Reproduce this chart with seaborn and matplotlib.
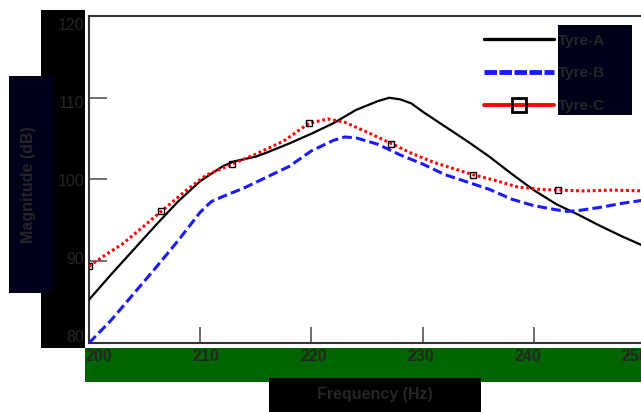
import matplotlib
matplotlib.use("Agg")
import matplotlib.pyplot as plt
from matplotlib.patches import Rectangle
from matplotlib.lines import Line2D
from matplotlib.transforms import ScaledTranslation
import seaborn as sns
import pandas as pd

# ---- data ----
freq_a = [200, 202, 204, 206, 208, 210, 212, 213, 214, 215, 216, 218, 220, 222, 224,
          226, 227, 228, 229, 230, 232, 234, 236, 238, 240, 242, 244, 246, 248, 250]
tyre_a = [85.3, 88.4, 91.4, 94.4, 97.3, 99.8, 101.6, 102.2, 102.5, 102.8, 103.3, 104.4,
          105.6, 106.9, 108.5, 109.6, 110.0, 109.8, 109.3, 108.3, 106.5, 104.7, 102.8,
          100.7, 98.7, 97.0, 95.7, 94.3, 93.0, 91.8]

freq_b = [200, 202, 204, 206, 208, 210, 211, 212, 214, 216, 218, 220, 222, 223, 224,
          226, 228, 230, 232, 234, 236, 238, 240, 242, 243, 244, 246, 248, 250]
tyre_b = [80.0, 82.8, 86.0, 89.2, 92.5, 96.0, 97.3, 97.9, 99.0, 100.3, 101.6, 103.5,
          104.8, 105.2, 105.1, 104.3, 103.0, 101.9, 100.6, 99.7, 98.8, 97.6, 96.8,
          96.3, 96.1, 96.2, 96.6, 97.1, 97.5]

freq_c = [200.0, 201.5, 203.0, 204.5, 206.5, 208.5, 210.5, 212.9, 215.0, 217.5, 219.8,
          221.5, 223.0, 225.0, 227.2, 229.0, 231.0, 234.5, 236.5, 238.5, 240.5, 242.2,
          244.5, 247.0, 250.0]
tyre_c = [89.4, 90.8, 92.1, 93.8, 96.1, 98.4, 100.5, 101.9, 103.1, 104.7, 106.9,
          107.4, 107.0, 105.8, 104.4, 103.2, 102.1, 100.6, 99.9, 99.1, 98.8, 98.7,
          98.6, 98.7, 98.6]
marker_idx_c = [0, 4, 7, 10, 14, 17, 21]

series_names = ["Tyre-A", "Tyre-B", "Tyre-C"]
x_ticks = [200, 210, 220, 230, 240, 250]
y_ticks = [80, 90, 100, 110, 120]

# ---- style ----
sns.set_theme(style="white")
plt.rcParams["font.family"] = ["Liberation Sans", "DejaVu Sans"]
plt.rcParams["lines.scale_dashes"] = False

W, H = 641, 412
fig = plt.figure(figsize=(W / 100, H / 100), dpi=100)
ax = fig.add_axes([89 / W, 1 - 343 / H, (645 - 89) / W, (343 - 16) / H])

TXT = "#262626"

def fig_rect(x0, y0, x1, y1, color):
    fig.patches.append(Rectangle((x0 / W, 1 - y1 / H), (x1 - x0) / W, (y1 - y0) / H,
                                 transform=fig.transFigure, color=color, zorder=-1,
                                 linewidth=0))

fig_rect(41, 10, 85, 347.5, "#000000")      # y tick labels box
fig_rect(9, 76, 53, 293, "#00001a")         # y label box
fig_rect(85, 347.5, 641, 382, "#006400")    # x tick labels box
fig_rect(269, 378, 481, 412, "#000000")     # x label box

df_a = pd.DataFrame({"f": freq_a, "m": tyre_a})
df_b = pd.DataFrame({"f": freq_b, "m": tyre_b})
df_c = pd.DataFrame({"f": freq_c, "m": tyre_c})

sns.lineplot(data=df_a, x="f", y="m", ax=ax, color="black", lw=1.6, zorder=3)
sns.lineplot(data=df_b, x="f", y="m", ax=ax, color="#1a1aff", lw=2.2,
             linestyle=(0, (7.0, 3.0)), zorder=3)
sns.lineplot(data=df_c, x="f", y="m", ax=ax, color="#ff0000", lw=2.2,
             linestyle=(0, (2.0, 2.0)), marker="s", markersize=4.5,
             markerfacecolor="none", markeredgecolor="black", markeredgewidth=1.0,
             markevery=marker_idx_c, zorder=4)

ax.set_xlim(200, 250)
ax.set_ylim(80, 120)
ax.set_xticks(x_ticks)
ax.set_yticks(y_ticks)
ax.set_xticklabels([str(t) for t in x_ticks], fontsize=11.5, fontweight="bold", color=TXT)
ax.set_yticklabels([str(t) for t in y_ticks], fontsize=11.5, color=TXT)
ax.tick_params(axis="both", direction="in", color="#555555", width=1.2,
               bottom=True, left=True, top=False, right=False)
ax.tick_params(axis="y", length=13, pad=3.5)
ax.tick_params(axis="x", length=11.5, pad=4)

# tick labels sit on a slightly compressed scale in the reference
for lab, v in zip(ax.get_xticklabels(), x_ticks):
    dx = 10 - 0.4 * (v - 200)
    lab.set_transform(lab.get_transform() + ScaledTranslation(dx / 100, 0, fig.dpi_scale_trans))
for lab, v in zip(ax.get_yticklabels(), y_ticks):
    dy = 8 - 0.38 * (120 - v)
    lab.set_transform(lab.get_transform() + ScaledTranslation(0, -dy / 100, fig.dpi_scale_trans))

for side in ["left", "bottom", "top"]:
    ax.spines[side].set_visible(True)
    ax.spines[side].set_color("#333333")
    ax.spines[side].set_linewidth(1.5)
ax.spines["right"].set_visible(False)

ax.set_xlabel("")
ax.set_ylabel("")
fig.text(375 / W, 1 - 394 / H, "Frequency (Hz)", ha="center", va="center",
         fontsize=11.5, fontweight="bold", color=TXT)
fig.text(29 / W, 1 - 184.5 / H, "Magnitude (dB)", ha="center", va="center",
         rotation=90, fontsize=11.5, fontweight="bold", color=TXT)

# legend background box (inside axes)
ax.add_patch(Rectangle((558 / W, 1 - 115 / H), (632 - 558) / W, (115 - 25) / H,
                       transform=fig.transFigure, color="#00001a", zorder=4.5,
                       linewidth=0))

handles = [
    Line2D([], [], color="black", lw=2.4),
    Line2D([], [], color="#1a1aff", lw=3.5, linestyle=(0, (9.0, 1.8))),
    Line2D([], [], color="#ff0000", lw=2.8, marker="s", markersize=10,
           markerfacecolor="none", markeredgecolor="black", markeredgewidth=2.0),
]
leg = ax.legend(handles, series_names, loc="upper left",
                bbox_to_anchor=(479 / W, 1 - 29 / H), bbox_transform=fig.transFigure,
                frameon=False, handlelength=4.6, handletextpad=0.25,
                labelspacing=1.22, borderpad=0.3, borderaxespad=0,
                prop={"size": 11, "weight": "bold"})
for t in leg.get_texts():
    t.set_color(TXT)
leg.set_zorder(6)

fig.savefig("out.png", dpi=100)
